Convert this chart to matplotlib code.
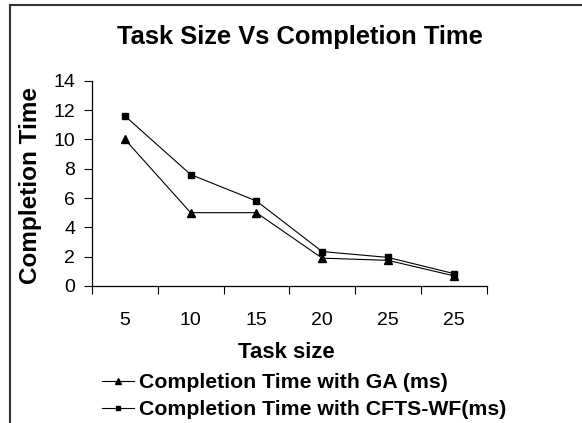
import matplotlib
matplotlib.use("Agg")
import matplotlib.pyplot as plt
from matplotlib.lines import Line2D
import numpy as np

plt.rcParams['font.family'] = ['Liberation Sans', 'DejaVu Sans']

categories = ["5", "10", "15", "20", "25", "25"]
ga_values = [10.0, 5.0, 5.0, 1.9, 1.75, 0.7]
cfts_values = [11.6, 7.6, 5.8, 2.35, 1.95, 0.85]
y_ticks = [0, 2, 4, 6, 8, 10, 12, 14]
title = "Task Size Vs Completion Time"
xlabel = "Task size"
ylabel = "Completion Time"
ga_label = "Completion Time with GA (ms)"
cfts_label = "Completion Time with CFTS-WF(ms)"

W, H = 582, 423
fig = plt.figure(figsize=(W / 100, H / 100), dpi=100)
ax = fig.add_axes([92 / W, 1 - 286 / H, (486.5 - 92) / W, (286 - 80.7) / H])

x = np.arange(len(categories)) + 0.5
ax.plot(x, ga_values, color='black', lw=0.8, marker='^', markersize=6, label=ga_label)
ax.plot(x, cfts_values, color='black', lw=0.8, marker='s', markersize=5, label=cfts_label)

ax.set_xlim(0, len(categories))
ax.set_ylim(0, 14)
ax.set_yticks(y_ticks)
ax.set_yticklabels([str(v) for v in y_ticks], fontsize=14)
ax.set_xticks(np.arange(len(categories) + 1))
ax.set_xticklabels([])
ax.set_xticks(x, minor=True)
ax.set_xticklabels(categories, minor=True, fontsize=14)
ax.tick_params(axis='x', which='major', length=6, width=0.8, direction='out')
ax.tick_params(axis='x', which='minor', length=0, pad=19)
ax.tick_params(axis='y', which='major', length=6, width=0.8, direction='out', pad=6)

for s in ['top', 'right']:
    ax.spines[s].set_visible(False)
for s in ['left', 'bottom']:
    ax.spines[s].set_linewidth(0.9)
    ax.spines[s].set_color('black')

ax.set_xlabel(xlabel, fontsize=16, fontweight='bold')
ax.xaxis.set_label_coords(0.493, -0.272)
ax.set_ylabel(ylabel, fontsize=17.5, fontweight='bold')
ax.yaxis.set_label_coords(-0.128, 0.49)

fig.text(300 / W, 1 - 37 / H, title, fontsize=18.4, fontweight='bold', ha='center', va='center')

leg = fig.legend(loc='upper left', bbox_to_anchor=(101.7 / W, 1 - 373 / H),
                 frameon=False, prop={'weight': 'bold', 'size': 15.3},
                 handlelength=1.5, handletextpad=0.25, labelspacing=0.38,
                 borderpad=0, borderaxespad=0, markerscale=0.7)

# outer frame (top and left edges visible)
fig.add_artist(Line2D([10 / W, 1], [1 - 5 / H, 1 - 5 / H], transform=fig.transFigure,
                      color='#333333', lw=1.5))
fig.add_artist(Line2D([10 / W, 10 / W], [0, 1 - 5 / H], transform=fig.transFigure,
                      color='#333333', lw=1.5))

fig.savefig("out.png", dpi=100)
